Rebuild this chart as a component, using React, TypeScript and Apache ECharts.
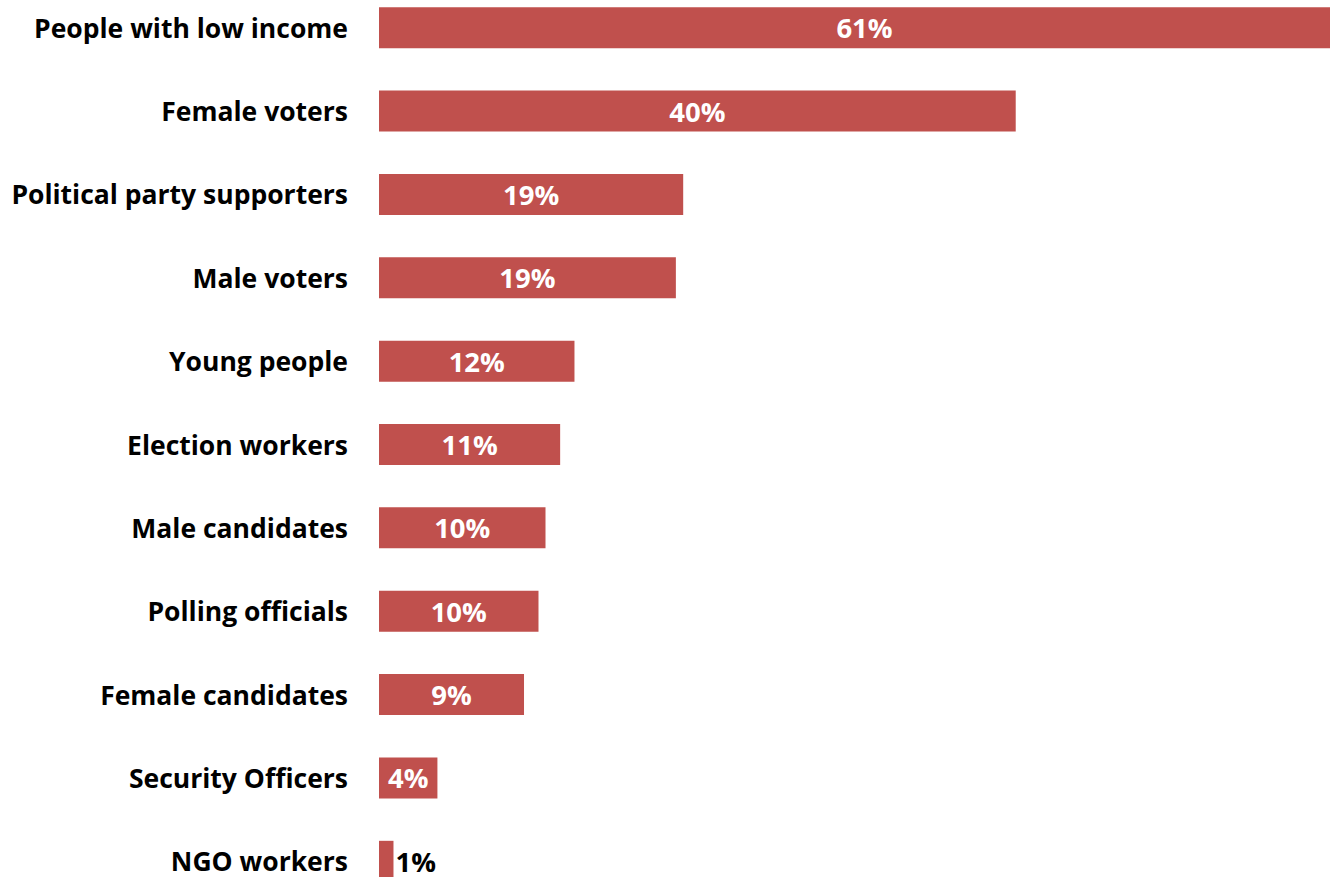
import React, { useEffect, useRef } from "react";
import * as echarts from "echarts";

const categories = [
  "People with low income",
  "Female voters",
  "Political party supporters",
  "Male voters",
  "Young people",
  "Election workers",
  "Male candidates",
  "Polling officials",
  "Female candidates",
  "Security Officers",
  "NGO workers",
];

const values = [61, 40.0, 19.11, 18.65, 12.28, 11.38, 10.46, 10.02, 9.11, 3.67, 0.91];

const valueLabels = ["61%", "40%", "19%", "19%", "12%", "11%", "10%", "10%", "9%", "4%", "1%"];

const FONT = "Open Sans";

export default function App() {
  const ref = useRef<HTMLDivElement>(null);
  useEffect(() => {
    if (!ref.current) return;
    const chart = echarts.init(ref.current, undefined, { renderer: "svg" });
    const data = values.map((v, i) => {
      const item: any = { value: v };
      if (i === values.length - 1) {
        item.label = {
          position: "right",
          color: "#000000",
          distance: 2,
        };
      }
      return item;
    });
    chart.setOption({
      animation: false,
      grid: { left: 379, right: 0, top: 0, bottom: 0, containLabel: false },
      xAxis: {
        type: "value",
        min: 0,
        max: 61,
        show: false,
      },
      yAxis: {
        type: "category",
        data: categories,
        inverse: true,
        axisLine: { show: false },
        axisTick: { show: false },
        splitLine: { show: false },
        axisLabel: {
          margin: 31,
          color: "#000000",
          fontFamily: FONT,
          fontWeight: "bold",
          fontSize: 26.5,
        },
      },
      series: [
        {
          type: "bar",
          data,
          barWidth: 41,
          itemStyle: { color: "#C0504D" },
          label: {
            show: true,
            position: "inside",
            color: "#FFFFFF",
            fontFamily: FONT,
            fontWeight: "bold",
            fontSize: 27.5,
            formatter: (p: any) => valueLabels[p.dataIndex],
          },
        },
      ],
    });
    return () => chart.dispose();
  }, []);
  return (
    <div style={{ position: "absolute", left: 0, top: 0, width: 1330, height: 877, overflow: "hidden" }}>
      <div
        ref={ref}
        style={{ position: "absolute", left: 0, top: -14.5, width: 1350, height: 916.7 }}
      />
    </div>
  );
}
